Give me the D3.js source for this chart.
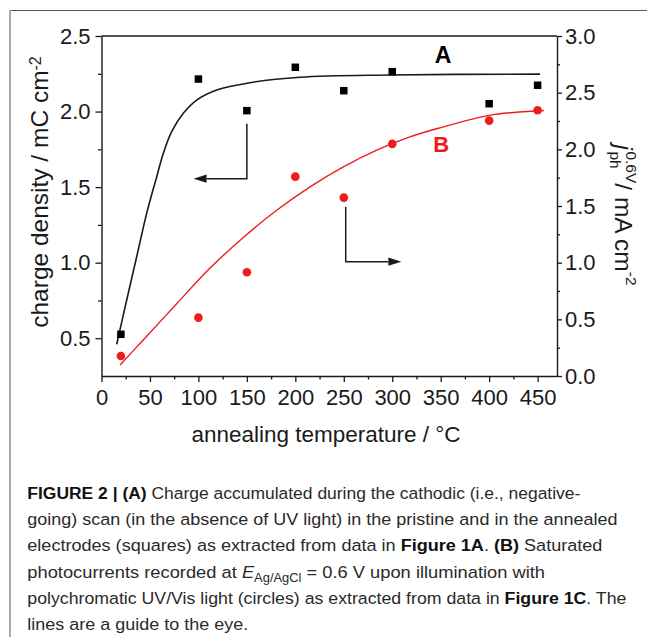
<!DOCTYPE html>
<html><head><meta charset="utf-8">
<script src="https://cdn.jsdelivr.net/npm/d3@7"></script>
<style>body{margin:0;background:#fff}svg{display:block}</style>
</head><body>
<svg id="chart" width="647" height="637"></svg>
<script>
// ---- data ----
const temperatures = [20, 100, 150, 200, 250, 300, 400, 450];
const chargeDensity = [0.526, 2.215, 2.006, 2.293, 2.138, 2.264, 2.052, 2.174];
const photocurrent = [0.177, 0.515, 0.915, 1.759, 1.574, 2.048, 2.253, 2.345];
const guideATemps = [15.7, 26, 36.3, 46.6, 57, 63.8, 72.4, 84.4, 98.2, 118.9, 153.2, 204.8, 296, 452.5];
const guideAValues = [0.46, 0.753, 1.039, 1.326, 1.569, 1.724, 1.867, 1.988, 2.076, 2.143, 2.191, 2.227, 2.242, 2.248];
const guideBTemps = [19.1, 43.1, 77.6, 112.0, 146.3, 180.8, 215.2, 249.5, 284.0, 318.3, 349.3, 399.8, 450, 456.6];
const guideBValues = [0.097, 0.318, 0.638, 0.952, 1.222, 1.462, 1.668, 1.845, 1.993, 2.110, 2.19, 2.30, 2.34, 2.343];
const xTicks = [0, 50, 100, 150, 200, 250, 300, 350, 400, 450];
const xMinorTicks = [25, 75, 125, 175, 225, 275, 325, 375, 425];
const leftTicks = [0.5, 1.0, 1.5, 2.0, 2.5];
const leftMinorTicks = [0.75, 1.25, 1.75, 2.25];
const rightTicks = [0, 0.5, 1.0, 1.5, 2.0, 2.5, 3.0];
const rightMinorTicks = [0.25, 0.75, 1.25, 1.75, 2.25, 2.75];
const arrowLeftPath = [[150, 1.92], [150, 1.556], [95, 1.556]];      // left-axis units
const arrowRightPath = [[252, 1.494], [252, 1.009], [309.4, 1.009]]; // right-axis units
const labelA = [352.4, 2.319];
const labelB = [350.6, 1.979];
const captionLines = [
  [["b","FIGURE 2 | (A)"],["n"," Charge accumulated during the cathodic (i.e., negative-"]],
  [["n","going) scan (in the absence of UV light) in the pristine and in the annealed"]],
  [["n","electrodes (squares) as extracted from data in "],["b","Figure 1A"],["n","."],["b"," (B)"],["n"," Saturated"]],
  [["n","photocurrents recorded at "],["i","E"],["s","Ag/AgCl"],["n"," = 0.6 V upon illumination with"]],
  [["n","polychromatic UV/Vis light (circles) as extracted from data in "],["b","Figure 1C"],["n",". The"]],
  [["n","lines are a guide to the eye."]]
];
const captionEnds = [581, 617.7, 602.7, 545.3, 626.7, 248.3];

// ---- layout ----
const FONT = "'Liberation Sans', Arial, Helvetica, sans-serif";
const INK = "#1a1a1a";
const RED = "#ee1c1c";
const svg = d3.select("#chart");
const x = d3.scaleLinear().domain([0, 470]).range([101.5, 557]);
const yL = d3.scaleLinear().domain([0.25, 2.5]).range([376, 36]);
const yR = d3.scaleLinear().domain([0, 3]).range([376, 36]);

// frame
svg.append("line").attr("x1", 9).attr("x2", 647).attr("y1", 10.5).attr("y2", 10.5).attr("stroke", "#555").attr("stroke-width", 1.2);
svg.append("line").attr("x1", 10).attr("x2", 10).attr("y1", 10).attr("y2", 637).attr("stroke", "#aaa").attr("stroke-width", 2);

function styleAxis(g) {
  g.selectAll("path.domain").attr("stroke", INK).attr("stroke-width", 1.4);
  g.selectAll(".tick line").attr("stroke", INK).attr("stroke-width", 1.3);
  g.selectAll(".tick text").attr("fill", INK).style("font-family", FONT).style("font-size", "22px");
}
// x axis
const gx = svg.append("g").attr("transform", "translate(0,376)")
  .call(d3.axisBottom(x).tickValues(xTicks).tickFormat(d3.format("d")).tickSize(6).tickPadding(7.5).tickSizeOuter(0));
styleAxis(gx);
const gxm = svg.append("g").attr("transform", "translate(0,376)")
  .call(d3.axisBottom(x).tickValues(xMinorTicks).tickFormat("").tickSize(3.5).tickSizeOuter(0));
styleAxis(gxm); gxm.select(".domain").remove();
// left axis
const gl = svg.append("g").attr("transform", "translate(101.5,0)")
  .call(d3.axisLeft(yL).tickValues(leftTicks).tickFormat(d3.format(".1f")).tickSize(6).tickPadding(5).tickSizeOuter(0));
styleAxis(gl);
const glm = svg.append("g").attr("transform", "translate(101.5,0)")
  .call(d3.axisLeft(yL).tickValues(leftMinorTicks).tickFormat("").tickSize(3.5).tickSizeOuter(0));
styleAxis(glm); glm.select(".domain").remove();
// right axis
const gr = svg.append("g").attr("transform", "translate(557,0)")
  .call(d3.axisRight(yR).tickValues(rightTicks).tickFormat(d3.format(".1f")).tickSize(5).tickPadding(3).tickSizeOuter(0));
styleAxis(gr);
const grm = svg.append("g").attr("transform", "translate(557,0)")
  .call(d3.axisRight(yR).tickValues(rightMinorTicks).tickFormat("").tickSize(3).tickSizeOuter(0));
styleAxis(grm); grm.select(".domain").remove();
// top line
svg.append("line").attr("x1", x(0)).attr("x2", x(470)).attr("y1", yL(2.5)).attr("y2", yL(2.5)).attr("stroke", INK).attr("stroke-width", 1.4);

// guide lines
const lineA = d3.line().x(d => x(d[0])).y(d => yL(d[1])).curve(d3.curveCatmullRom.alpha(0.5));
const lineB = d3.line().x(d => x(d[0])).y(d => yR(d[1])).curve(d3.curveCatmullRom.alpha(0.5));
svg.append("path").attr("d", lineA(d3.zip(guideATemps, guideAValues))).attr("fill", "none").attr("stroke", INK).attr("stroke-width", 1.6);
svg.append("path").attr("d", lineB(d3.zip(guideBTemps, guideBValues))).attr("fill", "none").attr("stroke", RED).attr("stroke-width", 1.4);

// markers
const sq = 7.5;
svg.append("g").selectAll("rect").data(d3.zip(temperatures, chargeDensity)).join("rect")
  .attr("x", d => x(d[0]) - sq / 2).attr("y", d => yL(d[1]) - sq / 2).attr("width", sq).attr("height", sq).attr("fill", "#000");
svg.append("g").selectAll("circle").data(d3.zip(temperatures, photocurrent)).join("circle")
  .attr("cx", d => x(d[0])).attr("cy", d => yR(d[1])).attr("r", 4.3).attr("fill", RED);

// arrows
function arrow(pts, ys) {
  const p = pts.map(d => [x(d[0]), ys(d[1])]);
  const tip = p[p.length - 1], prev = p[p.length - 2];
  const dir = Math.sign(tip[0] - prev[0]);
  const headLen = 13, headW = 4.2;
  const base = [tip[0] - dir * headLen, tip[1]];
  svg.append("path").attr("d", d3.line()([p[0], p[1], base])).attr("fill", "none").attr("stroke", INK).attr("stroke-width", 1.5);
  svg.append("path").attr("d", `M${tip[0]},${tip[1]}L${base[0]},${base[1] - headW}L${base[0]},${base[1] + headW}Z`).attr("fill", INK);
}
arrow(arrowLeftPath, yL);
arrow(arrowRightPath, yR);

// A / B labels
svg.append("text").attr("x", x(labelA[0])).attr("y", yL(labelA[1])).attr("text-anchor", "middle")
  .style("font-family", FONT).style("font-weight", "bold").style("font-size", "23px").attr("fill", "#000").text("A");
svg.append("text").attr("x", x(labelB[0])).attr("y", yR(labelB[1])).attr("text-anchor", "middle")
  .style("font-family", FONT).style("font-weight", "bold").style("font-size", "22px").attr("fill", RED).text("B");

// axis titles
svg.append("text").attr("x", 326).attr("y", 441.5).attr("text-anchor", "middle")
  .style("font-family", FONT).style("font-size", "22.5px").attr("fill", INK)
  .text("annealing temperature / °C");

const yt = svg.append("text").attr("transform", "translate(48,192) rotate(-90)").attr("text-anchor", "middle")
  .style("font-family", FONT).style("font-size", "24.5px").attr("fill", INK);
yt.append("tspan").text("charge density / mC cm");
yt.append("tspan").attr("dy", "-0.45em").style("font-size", "16px").text("-2");

// right title: j (sub ph, sup 0.6V) / mA cm^-2, rotated 90deg
const rg = svg.append("g");
const rt = rg.append("g");
function part(txt, size, dy, style) {
  const t = rt.append("text").attr("y", dy).style("font-family", FONT).style("font-size", size + "px").attr("fill", INK).text(txt);
  if (style) t.style("font-style", style);
  return t;
}
let cx = 0;
const tj = part("j", 24.5, 0, "italic"); tj.attr("x", cx); cx += tj.node().getComputedTextLength() + 1.5;
const tph = part("ph", 15.5, 5.5, null); tph.attr("x", cx);
const tsup = part("0.6V", 15.5, -11, null); tsup.attr("x", cx);
cx += Math.max(tph.node().getComputedTextLength(), tsup.node().getComputedTextLength());
const tm = part(" / mA cm", 24.5, 0, null); tm.attr("x", cx); cx += tm.node().getComputedTextLength();
const t2 = part("-2", 15.5, -11, null); t2.attr("x", cx); cx += t2.node().getComputedTextLength();
rt.attr("transform", `translate(${-cx / 2},0)`);
rg.attr("transform", "translate(615,215) rotate(90)");

// caption
captionLines.forEach((segs, i) => {
  const t = svg.append("text").attr("x", 0).attr("y", 0)
    .style("font-family", FONT).style("font-size", "17px").attr("fill", "#2a2a2a");
  segs.forEach(([k, s], j) => {
    const ts = t.append("tspan").text(s);
    if (k === "b") ts.style("font-weight", "bold").attr("fill", "#111");
    if (k === "i") ts.style("font-style", "italic");
    if (k === "s") ts.style("font-size", "12px").attr("dy", 4);
    if (j > 0 && segs[j - 1][0] === "s") ts.attr("dy", -4);
  });
  const w = t.node().getComputedTextLength();
  const sx = (captionEnds[i] - 27.3) / w;
  t.attr("transform", `translate(27.3,${498.5 + i * 26.35}) scale(${sx},1)`);
});
</script>
</body></html>
